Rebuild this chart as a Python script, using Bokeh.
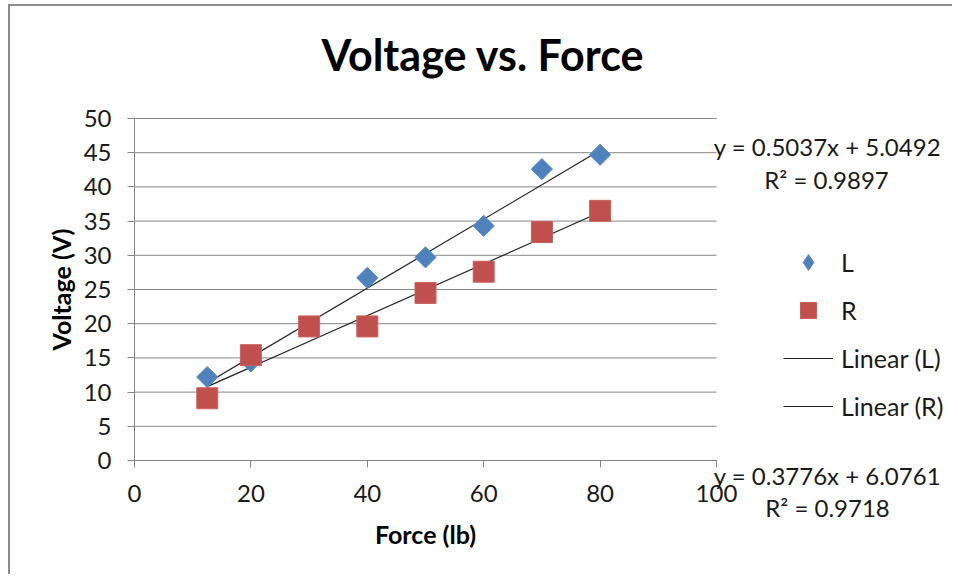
import numpy as np
from bokeh.plotting import figure
from bokeh.models import Range1d, Label, Legend, LegendItem, FixedTicker
from bokeh.embed import file_html
from bokeh.resources import INLINE

# ---- data ----
force_L = [12.5, 20, 40, 50, 60, 70, 80]
volt_L = [12.2, 14.5, 26.7, 29.7, 34.3, 42.6, 44.7]
force_R = [12.5, 20, 30, 40, 50, 60, 70, 80]
volt_R = [9.1, 15.4, 19.6, 19.6, 24.5, 27.6, 33.4, 36.5]
slope_L, icpt_L, r2_L = 0.5037, 5.0492, 0.9897
slope_R, icpt_R, r2_R = 0.3776, 6.0761, 0.9718
x_ticks = [0, 20, 40, 60, 80, 100]
y_ticks = [0, 5, 10, 15, 20, 25, 30, 35, 40, 45, 50]

FONT = "Lato"
GRAY = "#868686"
BLUE = "#4F81BD"
RED = "#C0504D"

# ---- canvas layout (pixels) ----
W, H = 944, 570
LEFT = 124                  # pixel of x = 0
PX_X = (706 - 124) / 100.0  # pixels per x unit
Y0 = 454                    # pixel of y = 0
PX_Y = (454 - 112) / 50.0   # pixels per y unit

x_rng = Range1d(-LEFT / PX_X, (W - LEFT) / PX_X)
y_rng = Range1d(-(H - Y0) / PX_Y, Y0 / PX_Y)

def dx(px):
    return (px - LEFT) / PX_X

def dy(py):
    return (Y0 - py) / PX_Y

p = figure(width=W, height=H, output_backend="svg", toolbar_location=None,
           x_range=x_rng, y_range=y_rng,
           min_border_left=0, min_border_right=0,
           min_border_top=0, min_border_bottom=0)
p.styles = {"margin-left": "8px", "margin-top": "4px",
            "border-top": "2px solid #8c8c8c", "border-left": "2px solid #8c8c8c"}
p.outline_line_color = None
p.background_fill_color = "white"
p.border_fill_color = "white"
p.xgrid.visible = False
p.ygrid.visible = False

# axes (drawn inside the canvas at x = 0 and y = 0)
p.xaxis.ticker = FixedTicker(ticks=x_ticks)
p.yaxis.ticker = FixedTicker(ticks=y_ticks)
p.xaxis.fixed_location = 0
p.yaxis.fixed_location = 0
p.xaxis.bounds = (x_ticks[0], x_ticks[-1])
p.yaxis.bounds = (y_ticks[0], y_ticks[-1])
for ax in (p.xaxis[0], p.yaxis[0]):
    ax.axis_line_color = GRAY
    ax.major_tick_line_color = GRAY
    ax.major_tick_out = 7
    ax.major_tick_in = 0
    ax.minor_tick_line_color = None
    ax.major_label_text_font = FONT
    ax.major_label_text_font_size = "24px"
    ax.major_label_text_color = "#1a1a1a"
    ax.axis_label_text_font = FONT
    ax.axis_label_text_font_size = "25px"
    ax.axis_label_text_font_style = "bold"
    ax.axis_label_text_color = "black"
p.xaxis.axis_label = "Force (lb)"
p.yaxis.axis_label = "Voltage (V)"
p.xaxis.major_label_standoff = 17
p.xaxis.axis_label_standoff = 14
p.yaxis.major_label_standoff = 16
p.yaxis.axis_label_standoff = 5

# horizontal gridlines across the plot area
p.segment(x0=x_ticks[0], x1=x_ticks[-1], y0=y_ticks, y1=y_ticks,
          line_color=GRAY, line_width=1)

# trendlines
xl = np.array([min(force_L), max(force_L)])
xr = np.array([min(force_R), max(force_R)])
tl = p.line(xl, slope_L * xl + icpt_L, line_color="#222222", line_width=1.2)
tr = p.line(xr, slope_R * xr + icpt_R, line_color="#222222", line_width=1.2)

# markers (the small diamond glyph sits under the L marks and provides the legend swatch)
sl_key = p.scatter(force_L, volt_L, marker="diamond", size=9, fill_color=BLUE,
                   line_color="#5b8cc6", line_width=1)
sl = p.scatter(force_L, volt_L, marker="square", angle=np.pi / 4, size=15,
               fill_color=BLUE, line_color="#5b8cc6", line_width=1)
sr = p.scatter(force_R, volt_R, marker="square", size=21,
               fill_color=RED, line_color="#c9605d", line_width=1)

legend = Legend(items=[LegendItem(label="L", renderers=[sl_key]),
                       LegendItem(label="R", renderers=[sr]),
                       LegendItem(label="Linear (L)", renderers=[tl]),
                       LegendItem(label="Linear (R)", renderers=[tr])],
                location=(649 + LEFT, 150), glyph_width=50, glyph_height=40,
                label_height=40, spacing=8, padding=0, margin=0,
                label_standoff=8, label_text_font=FONT,
                label_text_font_size="25px", label_text_color="#1a1a1a",
                border_line_color=None, background_fill_alpha=0)
p.add_layout(legend, "center")

# title
p.add_layout(Label(x=dx(472.5), y=dy(48), text="Voltage vs. Force", text_font=FONT,
                   text_font_size="43px", text_font_style="bold",
                   text_align="center", text_baseline="middle",
                   text_color="black"))

# trendline equations
eq = [("y = %.4fx + %.4f" % (slope_L, icpt_L), 817, 140),
      ("R² = %.4f" % r2_L, 816, 173),
      ("y = %.4fx + %.4f" % (slope_R, icpt_R), 817, 469),
      ("R² = %.4f" % r2_R, 817, 501)]
for t, px, py in eq:
    p.add_layout(Label(x=dx(px), y=dy(py), text=t, text_font=FONT,
                       text_font_size="24px", text_align="center",
                       text_baseline="middle", text_color="#1a1a1a"))

open("out.html", "w").write(file_html(p, INLINE))
